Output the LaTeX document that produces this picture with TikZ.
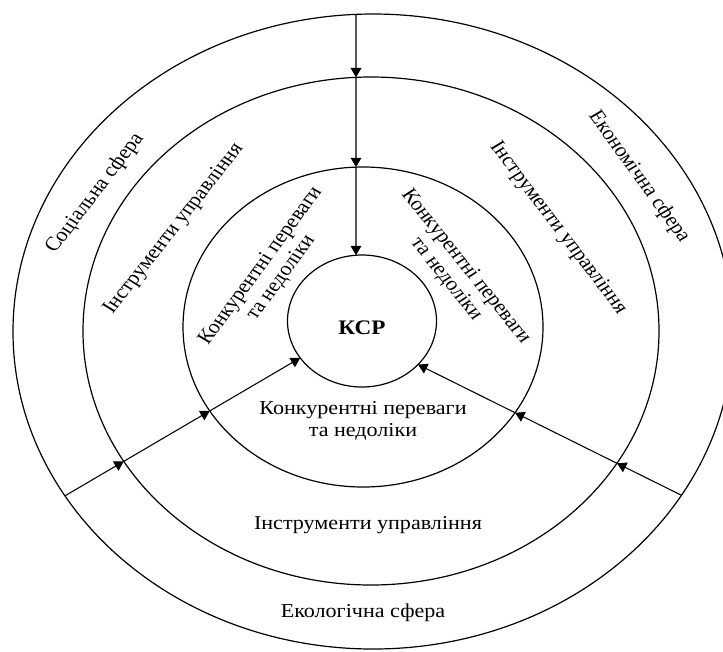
\documentclass[tikz,border=0pt]{standalone}
\usepackage{fontspec}
\setmainfont{Liberation Serif}
\usetikzlibrary{arrows.meta,intersections}
\begin{document}
\begin{tikzpicture}[x=0.75pt,y=-0.75pt,
  ring/.style={draw=black, line width=0.9pt},
  conn/.style={draw=black, line width=0.8pt, -{Triangle[length=7pt,width=8pt]}},
  lbl/.style={font=\fontsize{14.8}{16.2}\selectfont, align=center, inner sep=0pt, xscale=1.12},
  ksrlbl/.style={font=\fontsize{15.5}{17}\selectfont\bfseries, inner sep=0pt, xscale=1.12},
]
\useasboundingbox (0,0) rectangle (723,651);
\clip (0,0) rectangle (723,651);
% rings
\draw[ring, name path=E1] (373,331.5) ellipse [x radius=360, y radius=317.5];
\draw[ring, name path=E2] (371,331) ellipse [x radius=288, y radius=254];
\draw[ring, name path=E3] (363,327) ellipse [x radius=180, y radius=160];
\draw[ring, name path=E4] (362,321) ellipse [x radius=74.5, y radius=66];
% guide lines for connectors
\path[name path=V] (356,0) -- (356,300);
\path[name path=LA] (44,508.1) -- (323.7,344.1);
\path[name path=LB] (701,505) -- (399.2,355.2);
\path[name intersections={of=V and E1, by=v1}];
\path[name intersections={of=V and E2, by=v2}];
\path[name intersections={of=V and E3, by=v3}];
\path[name intersections={of=V and E4, by=v4}];
\path[name intersections={of=LA and E1, by=a1}];
\path[name intersections={of=LA and E2, by=a2}];
\path[name intersections={of=LA and E3, by=a3}];
\path[name intersections={of=LA and E4, by=a4}];
\path[name intersections={of=LB and E1, by=b1}];
\path[name intersections={of=LB and E2, by=b2}];
\path[name intersections={of=LB and E3, by=b3}];
\path[name intersections={of=LB and E4, by=b4}];
% connectors
\draw[conn] (v1) -- (v2);
\draw[conn] (v2) -- (v3);
\draw[conn] (v3) -- (v4);
\draw[conn] (a1) -- (a2);
\draw[conn] (a2) -- (a3);
\draw[conn] (a3) -- (a4);
\draw[conn] (b1) -- (b2);
\draw[conn] (b2) -- (b3);
\draw[conn] (b3) -- (b4);
% labels
\node[ksrlbl] (ksr) at (362,328) {КСР};
\node[lbl, rotate=55.5] (soc) at (95,193.5) {Соціальна сфера};
\node[lbl, rotate=54.9] (instl) at (174,229) {Інструменти управління};
\node[lbl, rotate=56.6] (konl) at (271,272) {Конкурентні переваги\\та недоліки};
\node[lbl, rotate=-54.3] (konr) at (456,273) {Конкурентні переваги\\та недоліки};
\node[lbl, rotate=-55.7] (instr) at (558,228) {Інструменти управління};
\node[lbl, rotate=-57.1] (econ) at (639,177) {Економічна сфера};
\node[lbl] (konb) at (363,421) {Конкурентні переваги\\та недоліки};
\node[lbl] (instb) at (368,525) {Інструменти управління};
\node[lbl] (ecol) at (363,613) {Екологічна сфера};
\end{tikzpicture}
\end{document}
